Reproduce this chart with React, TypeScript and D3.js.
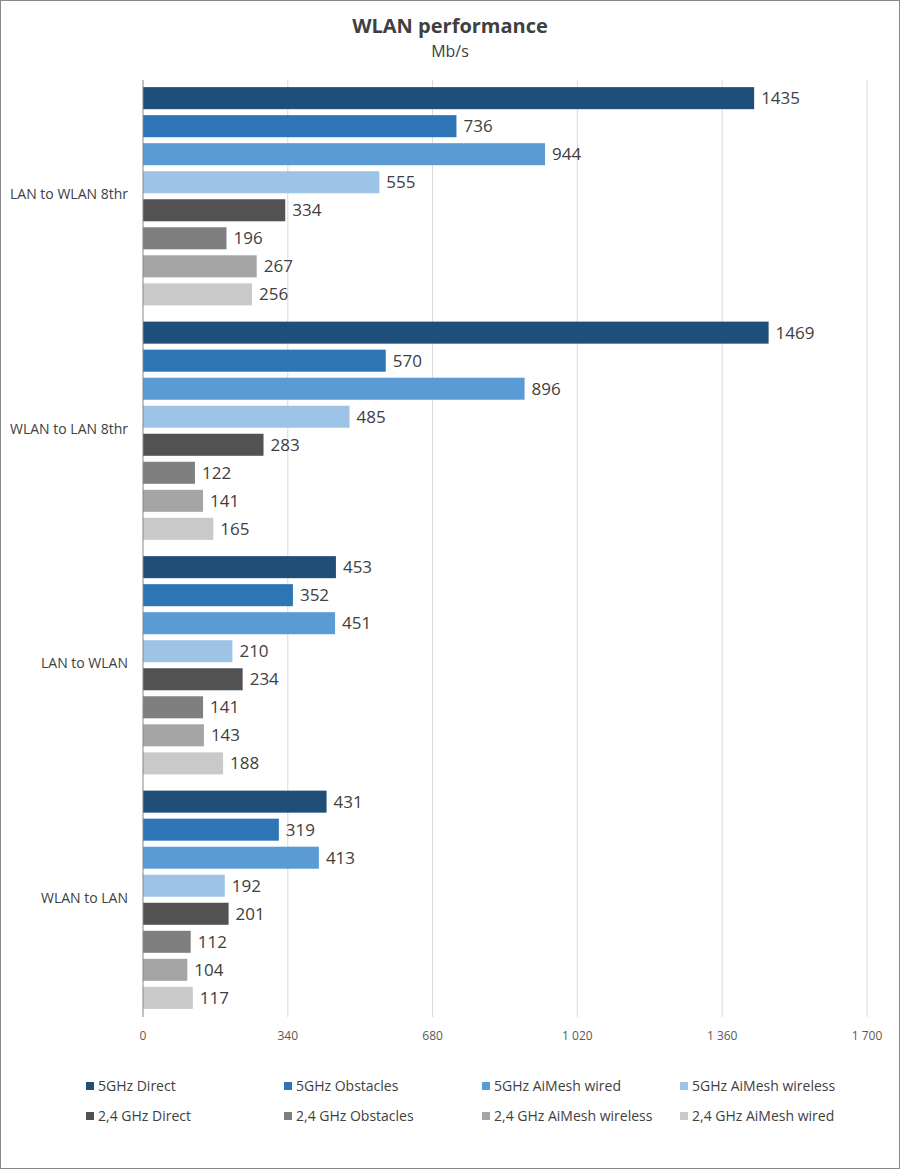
import React from "react";
import * as d3 from "d3";

const categories = ["LAN to WLAN 8thr", "WLAN to LAN 8thr", "LAN to WLAN", "WLAN to LAN"];
const seriesNames = [
  "5GHz Direct",
  "5GHz Obstacles",
  "5GHz AiMesh wired",
  "5GHz AiMesh wireless",
  "2,4 GHz Direct",
  "2,4 GHz Obstacles",
  "2,4 GHz AiMesh wireless",
  "2,4 GHz AiMesh wired",
];
const seriesColors = ["#1F4E79", "#2E75B6", "#5B9BD5", "#9DC3E6", "#525252", "#7F7F7F", "#A5A5A5", "#C9C9C9"];
// values[category][series]
const values = [
  [1435, 736, 944, 555, 334, 196, 267, 256],
  [1469, 570, 896, 485, 283, 122, 141, 165],
  [453, 352, 451, 210, 234, 141, 143, 188],
  [431, 319, 413, 192, 201, 112, 104, 117],
];
const tickValues = [0, 340, 680, 1020, 1360, 1700];
const tickLabels = ["0", "340", "680", "1 020", "1 360", "1 700"];

const W = 900;
const H = 1169;
const FONT = "'Open Sans', 'DejaVu Sans', sans-serif";

export default function App() {
  const x = d3.scaleLinear().domain([0, 1700]).range([143, 867]);
  const y0 = d3.scaleBand<string>().domain(categories).range([79, 1017]).padding(0);
  const y1 = d3
    .scaleBand<string>()
    .domain(seriesNames)
    .range([0, y0.bandwidth()])
    .paddingInner(0.214)
    .paddingOuter(0.29);

  const legendCols = [86, 284, 482, 680];
  const legendRows = [1086, 1116];

  return (
    <svg
      width={W}
      height={H}
      style={{ position: "absolute", left: 0, top: 0, display: "block" }}
      fontFamily={FONT}
    >
      <rect x={0.5} y={0.5} width={W - 1} height={H - 1} fill="#fff" stroke="#888" />
      <text x={450} y={33} textAnchor="middle" fontSize={20} fontWeight="bold" fill="#404040">
        WLAN performance
      </text>
      <text x={450} y={57} textAnchor="middle" fontSize={16} fill="#404040">
        Mb/s
      </text>

      {tickValues.slice(1).map((t) => (
        <line key={t} x1={x(t)} x2={x(t)} y1={80} y2={1017} stroke="#D9D9D9" strokeWidth={1} />
      ))}

      {categories.map((c, ci) => (
        <g key={c} transform={`translate(0,${y0(c)})`}>
          {seriesNames.map((s, si) => {
            const v = values[ci][si];
            const yy = y1(s)!;
            return (
              <g key={s}>
                <rect x={x(0)} y={yy} width={x(v) - x(0)} height={y1.bandwidth()} fill={seriesColors[si]} />
                <text
                  x={x(v) + 7}
                  y={yy + y1.bandwidth() / 2}
                  dy="0.35em"
                  fontSize={17}
                  fill="#404040"
                >
                  {v}
                </text>
              </g>
            );
          })}
          <text
            x={128}
            y={y0.bandwidth() / 2 - 2}
            dy="0.35em"
            textAnchor="end"
            fontSize={14}
            fill="#404040"
          >
            {c}
          </text>
        </g>
      ))}

      <line x1={x(0)} x2={x(0)} y1={80} y2={1017} stroke="#868686" strokeWidth={1} />

      {tickValues.map((t, i) => (
        <text key={t} x={x(t)} y={1036} dy="0.35em" textAnchor="middle" fontSize={12} fill="#595959">
          {tickLabels[i]}
        </text>
      ))}

      {seriesNames.map((s, i) => {
        const col = i % 4;
        const row = Math.floor(i / 4);
        const lx = legendCols[col];
        const ly = legendRows[row];
        return (
          <g key={s}>
            <rect x={lx} y={ly - 4} width={8} height={8} fill={seriesColors[i]} />
            <text x={lx + 12} y={ly} dy="0.35em" fontSize={14} fill="#404040">
              {s}
            </text>
          </g>
        );
      })}
    </svg>
  );
}
